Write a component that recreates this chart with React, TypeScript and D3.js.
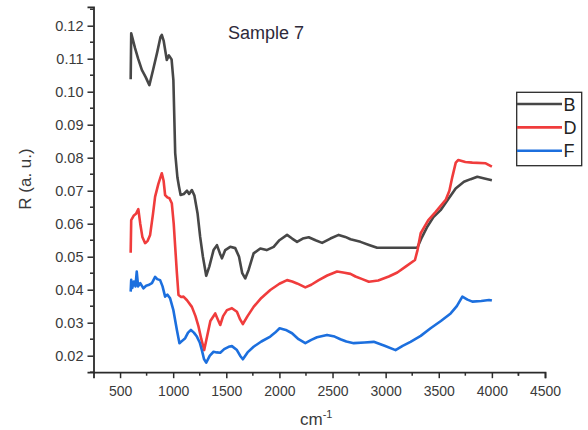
import React, { useRef, useEffect } from 'react';
import * as d3 from 'd3';

// wavenumber (cm-1), reflectance values
const seriesB = [
  [600, 0.1038], [605, 0.1177], [615, 0.1165], [641, 0.1132], [670, 0.110], [705, 0.1066],
  [740, 0.1045], [776, 0.102], [810, 0.1065], [850, 0.112], [880, 0.1165], [893, 0.1172],
  [910, 0.1155], [940, 0.1096], [960, 0.111], [985, 0.1098], [1002, 0.1035], [1019, 0.0814],
  [1040, 0.0740], [1055, 0.0712], [1070, 0.0687], [1100, 0.069], [1130, 0.0700], [1150, 0.069],
  [1176, 0.0702], [1200, 0.0685], [1230, 0.063], [1254, 0.056], [1280, 0.050], [1311, 0.0442],
  [1340, 0.047], [1380, 0.052], [1412, 0.0535], [1440, 0.051], [1459, 0.0495], [1490, 0.052],
  [1537, 0.053], [1584, 0.0526], [1620, 0.050], [1650, 0.045], [1678, 0.0434], [1710, 0.046],
  [1757, 0.051], [1820, 0.0525], [1880, 0.052], [1946, 0.053], [2000, 0.055], [2072, 0.0566],
  [2120, 0.0555], [2166, 0.0545], [2220, 0.0555], [2276, 0.0559], [2340, 0.055], [2402, 0.0542],
  [2480, 0.0555], [2558, 0.0566], [2620, 0.056], [2669, 0.0553], [2763, 0.0545], [2850, 0.0535],
  [2920, 0.0527], [3000, 0.0527], [3100, 0.0527], [3200, 0.0527], [3298, 0.0527], [3340, 0.0558],
  [3392, 0.0591], [3450, 0.062], [3517, 0.0641], [3590, 0.0675], [3659, 0.0707], [3737, 0.0727],
  [3800, 0.0735], [3863, 0.0742], [3930, 0.0737], [4000, 0.0732],
];

const seriesD = [
  [600, 0.0512], [605, 0.0611], [630, 0.0625], [650, 0.0630], [672, 0.0644], [690, 0.060],
  [710, 0.0560], [736, 0.0541], [760, 0.0548], [783, 0.0566], [810, 0.063], [830, 0.0682],
  [860, 0.072], [893, 0.0753], [910, 0.073], [924, 0.0687], [945, 0.068], [965, 0.0677],
  [987, 0.0662], [1005, 0.060], [1019, 0.053], [1035, 0.045], [1050, 0.0384], [1075, 0.0378],
  [1097, 0.0379], [1130, 0.0368], [1176, 0.0348], [1210, 0.032], [1239, 0.0288], [1265, 0.025],
  [1292, 0.0217], [1320, 0.026], [1350, 0.0305], [1396, 0.0328], [1420, 0.031], [1443, 0.0293],
  [1470, 0.032], [1506, 0.0338], [1553, 0.0344], [1600, 0.0333], [1630, 0.031], [1656, 0.0296],
  [1700, 0.032], [1757, 0.0348], [1830, 0.0375], [1914, 0.0399], [2000, 0.0418], [2072, 0.0429],
  [2120, 0.0425], [2166, 0.0419], [2244, 0.0407], [2300, 0.0415], [2370, 0.0429], [2450, 0.0443],
  [2543, 0.0455], [2600, 0.0452], [2669, 0.0448], [2716, 0.044], [2780, 0.0432], [2842, 0.0424],
  [2930, 0.0428], [3030, 0.044], [3110, 0.0452], [3188, 0.047], [3276, 0.049], [3300, 0.052],
  [3330, 0.0571], [3400, 0.061], [3471, 0.0636], [3565, 0.0672], [3600, 0.070], [3628, 0.0742],
  [3660, 0.0785], [3684, 0.0793], [3750, 0.0787], [3816, 0.0785], [3942, 0.0783], [4000, 0.0773],
];

const seriesF = [
  [600, 0.0394], [605, 0.0430], [615, 0.0405], [630, 0.0425], [645, 0.041], [657, 0.0455],
  [670, 0.041], [690, 0.042], [720, 0.0404], [745, 0.0412], [767, 0.0414], [800, 0.042],
  [830, 0.0439], [850, 0.0432], [877, 0.0429], [900, 0.041], [924, 0.0379], [945, 0.0385],
  [971, 0.0374], [1002, 0.0338], [1035, 0.0278], [1059, 0.0238], [1085, 0.0245], [1113, 0.0253],
  [1140, 0.027], [1167, 0.0278], [1195, 0.027], [1223, 0.0258], [1250, 0.024], [1270, 0.0217],
  [1290, 0.019], [1311, 0.0179], [1345, 0.020], [1380, 0.0212], [1410, 0.021], [1443, 0.0209],
  [1480, 0.022], [1522, 0.0227], [1553, 0.0229], [1600, 0.0217], [1630, 0.020], [1656, 0.0189],
  [1700, 0.021], [1757, 0.0227], [1830, 0.0243], [1914, 0.0258], [1960, 0.027], [2002, 0.0283],
  [2060, 0.0278], [2119, 0.0268], [2180, 0.025], [2244, 0.0238], [2300, 0.0248], [2354, 0.0256],
  [2448, 0.0263], [2520, 0.0258], [2574, 0.0250], [2630, 0.0243], [2700, 0.0238], [2800, 0.024],
  [2888, 0.0242], [2990, 0.023], [3093, 0.0217], [3160, 0.023], [3234, 0.0242], [3330, 0.026],
  [3423, 0.0283], [3520, 0.0305], [3612, 0.0328], [3670, 0.035], [3722, 0.0379], [3770, 0.037],
  [3816, 0.0364], [3900, 0.0366], [3973, 0.0369], [4000, 0.0367],
];

const seriesNames = ['B', 'D', 'F'];
const seriesColors = ['#474747', '#f03c3c', '#1c6fde'];
const xTicks = [500, 1000, 1500, 2000, 2500, 3000, 3500, 4000, 4500];
const yTicks = [0.02, 0.03, 0.04, 0.05, 0.06, 0.07, 0.08, 0.09, 0.10, 0.11, 0.12];

const Chart = () => {
  const svgRef = useRef(null);

  useEffect(() => {
    const width = 588;
    const height = 430;
    const svg = d3.select(svgRef.current);
    svg.selectAll('*').remove();
    svg.attr('width', width).attr('height', height);

    const x = d3.scaleLinear().domain([250, 4500]).range([93.5, 545]);
    const y = d3.scaleLinear().domain([0.015, 0.1257]).range([372.2, 6.9]);

    const font = 'Arial, "Liberation Sans", sans-serif';
    const axisColor = '#2b2b2b';
    const textColor = '#3a3a3a';

    // lines
    const line = d3.line().x(d => x(d[0])).y(d => y(d[1]));
    [seriesB, seriesD, seriesF].forEach((s, i) => {
      svg.append('path')
        .datum(s)
        .attr('d', line)
        .attr('fill', 'none')
        .attr('stroke', seriesColors[i])
        .attr('stroke-width', 2.6)
        .attr('stroke-linejoin', 'round');
    });

    // x axis
    const xAxis = svg.append('g').attr('transform', `translate(0,${y(0.015)})`);
    xAxis.call(d3.axisBottom(x).tickValues(xTicks).tickSize(6).tickFormat(d3.format('d')))
      .call(g => g.select('.domain').attr('stroke', axisColor).attr('stroke-width', 1.8))
      .call(g => g.selectAll('.tick line').attr('stroke', axisColor).attr('stroke-width', 1.5))
      .call(g => g.selectAll('.tick text')
        .attr('font-family', font).attr('font-size', 14).attr('fill', textColor).attr('dy', '1.05em'));
    xAxis.selectAll('line.minor')
      .data(d3.range(250, 4500, 500).concat([4250]).filter(v => v > 250))
      .enter()
      .append('line')
      .attr('class', 'minor')
      .attr('x1', d => x(d)).attr('x2', d => x(d))
      .attr('y1', 0).attr('y2', 3.5)
      .attr('stroke', axisColor).attr('stroke-width', 1.5);

    // y axis
    const yAxis = svg.append('g').attr('transform', `translate(${x(250)},0)`);
    yAxis.call(d3.axisLeft(y).tickValues(yTicks).tickSize(6).tickFormat(d3.format('.2f')))
      .call(g => g.select('.domain').attr('stroke', axisColor).attr('stroke-width', 1.8))
      .call(g => g.selectAll('.tick line').attr('stroke', axisColor).attr('stroke-width', 1.5))
      .call(g => g.selectAll('.tick text')
        .attr('font-family', font).attr('font-size', 14.5).attr('fill', textColor).attr('x', -10));
    yAxis.selectAll('line.minor')
      .data(d3.range(0.015, 0.126, 0.01))
      .enter()
      .append('line')
      .attr('class', 'minor')
      .attr('x1', 0).attr('x2', -3.5)
      .attr('y1', d => y(d)).attr('y2', d => y(d))
      .attr('stroke', axisColor).attr('stroke-width', 1.5);

    // axis titles
    svg.append('text')
      .attr('transform', 'translate(31,179) rotate(-90)')
      .attr('text-anchor', 'middle')
      .attr('font-family', font)
      .attr('font-size', 17)
      .attr('fill', textColor)
      .text('R (a. u.)');

    const xt = svg.append('text')
      .attr('x', 300)
      .attr('y', 425)
      .attr('font-family', font)
      .attr('font-size', 17)
      .attr('fill', textColor);
    xt.append('tspan').text('cm');
    xt.append('tspan').attr('font-size', 11).attr('dy', -7).text('-1');

    // title
    svg.append('text')
      .attr('x', 228)
      .attr('y', 39)
      .attr('font-family', font)
      .attr('font-size', 18)
      .attr('fill', '#2e2a3a')
      .text('Sample 7');

    // legend
    const lg = svg.append('g');
    lg.append('rect')
      .attr('x', 516.7).attr('y', 92.3)
      .attr('width', 65).attr('height', 73.4)
      .attr('fill', 'white')
      .attr('stroke', axisColor).attr('stroke-width', 1.3);
    seriesNames.forEach((name, i) => {
      const ly = 104 + i * 23.4;
      lg.append('line')
        .attr('x1', 517).attr('x2', 562)
        .attr('y1', ly).attr('y2', ly)
        .attr('stroke', seriesColors[i]).attr('stroke-width', 2.6);
      lg.append('text')
        .attr('x', 563.5).attr('y', ly + 6.5)
        .attr('font-family', font)
        .attr('font-size', 18)
        .attr('fill', '#222')
        .text(name);
    });
  }, []);

  return <svg ref={svgRef} style={{ position: 'absolute', left: 0, top: 0 }}></svg>;
};

export default function App() {
  return <Chart />;
}
